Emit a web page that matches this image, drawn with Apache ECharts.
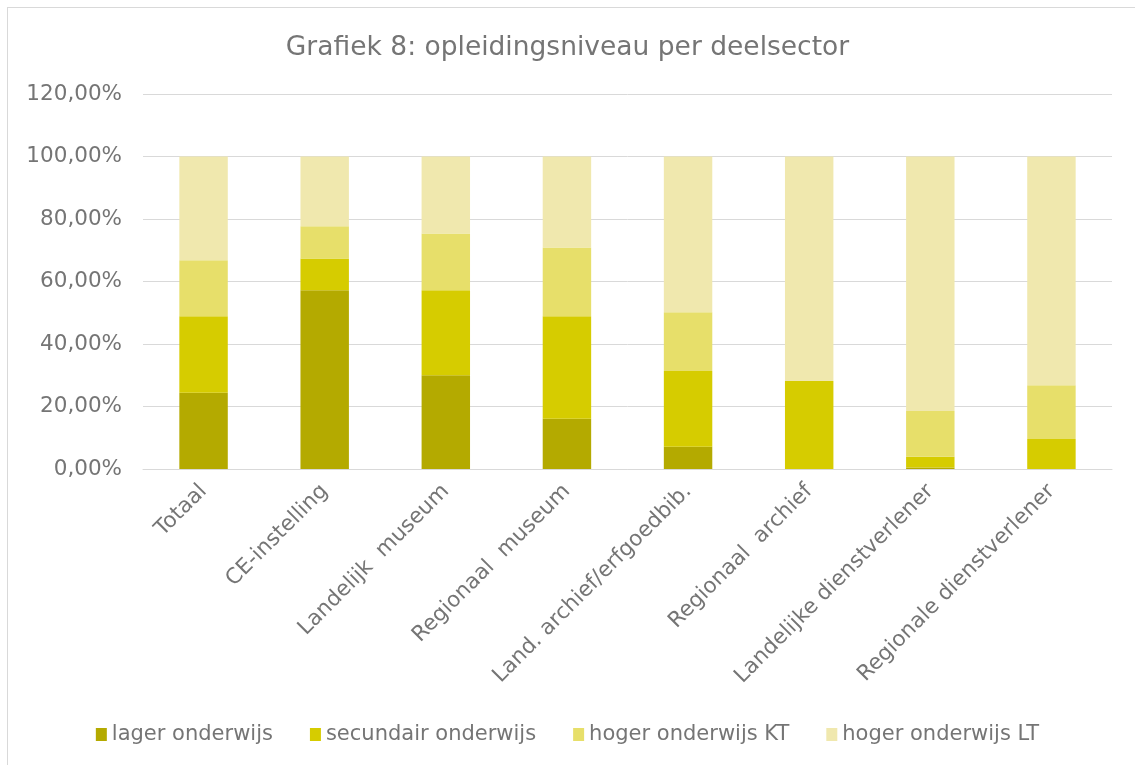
<!DOCTYPE html>
<html>
<head>
<meta charset="utf-8">
<script src="https://cdn.jsdelivr.net/npm/echarts@6/dist/echarts.min.js"></script>
<style>
html,body{margin:0;padding:0;background:#fff;overflow:hidden;}
#frame{position:absolute;left:7px;top:7px;width:1150px;height:780px;border:1px solid #D9D9D9;box-sizing:border-box;}
#chart{position:absolute;left:0;top:0;width:1135px;height:765px;}
</style>
</head>
<body>
<div id="frame"></div>
<div id="chart"></div>
<script>
var categories = ["Totaal","CE-instelling","Landelijk  museum","Regionaal  museum","Land. archief/erfgoedbib.","Regionaal  archief","Landelijke dienstverlener","Regionale dienstverlener"];
var seriesNames = ["lager onderwijs","secundair onderwijs","hoger onderwijs KT","hoger onderwijs LT"];
var lager = [24.4, 57.2, 30.0, 16.1, 7.1, 0, 0.5, 0];
var secundair = [24.5, 10.2, 27.2, 32.8, 24.3, 28.2, 3.4, 9.6];
var hogerKT = [17.9, 10.3, 18.2, 22.0, 18.8, 0, 14.7, 17.2];
var hogerLT = [33.2, 22.3, 24.6, 29.1, 49.8, 71.8, 81.4, 73.2];
var colors = ["#B4AA00","#D6CC00","#E7DF6A","#F0E8AE"];

var font = "'DejaVu Sans'";
var txt = "#757575";
var chart = echarts.init(document.getElementById('chart'));
var dataSets = [lager, secundair, hogerKT, hogerLT];
chart.setOption({
  animation: false,
  color: colors,
  title: {
    text: "Grafiek 8: opleidingsniveau per deelsector",
    left: 'center', top: 30,
    textStyle: {fontFamily: font, fontSize: 26.5, fontWeight: 'normal', color: txt}
  },
  legend: {
    top: 719, left: 'center',
    icon: 'rect', itemWidth: 11, itemHeight: 13, itemGap: 37,
    textStyle: {fontFamily: font, fontSize: 21, color: txt},
    data: seriesNames
  },
  grid: {left: 143, right: 23, top: 94, bottom: 296, containLabel: false},
  xAxis: {
    type: 'category', data: categories,
    axisLine: {lineStyle: {color: '#D9D9D9', width: 1}},
    axisTick: {show: false},
    axisLabel: {rotate: 45, interval: 0, fontFamily: font, fontSize: 21.5, color: txt, margin: 19}
  },
  yAxis: {
    type: 'value', min: 0, max: 120, interval: 20,
    axisLine: {show: false}, axisTick: {show: false},
    splitLine: {lineStyle: {color: '#D9D9D9', width: 1}},
    axisLabel: {fontFamily: font, fontSize: 21.5, color: txt, margin: 21,
      formatter: function(v){ return v.toFixed(2).replace('.', ',') + '%'; }}
  },
  series: seriesNames.map(function(n, i){
    return {name: n, type: 'bar', stack: 'total', barWidth: '40%', data: dataSets[i],
      itemStyle: {color: colors[i]}};
  })
});
</script>
</body>
</html>
